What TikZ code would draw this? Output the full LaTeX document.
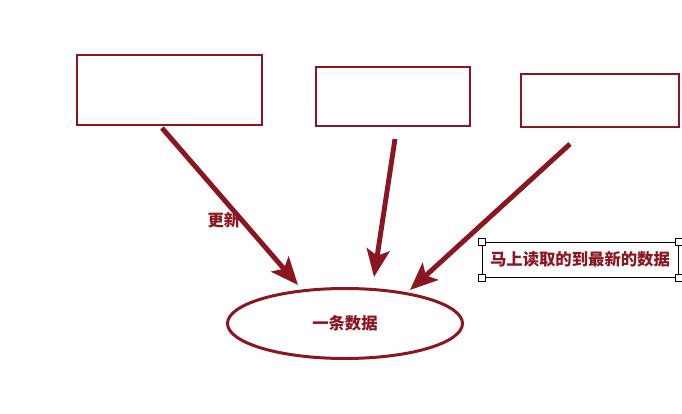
\documentclass[tikz,border=0pt]{standalone}
\usepackage{fontspec}
\newfontfamily\cjk{Noto Sans CJK SC}
\usetikzlibrary{arrows.meta}
\usetikzlibrary{shapes.geometric}
\definecolor{darkred}{RGB}{139,21,32}

\begin{document}
\begin{tikzpicture}[
  box/.style={draw=darkred, line width=1.7pt, minimum width=#1, inner sep=0pt},
  flow/.style={draw=darkred, line width=2.8pt, -{Stealth[length=5.5mm,width=4.6mm,inset=1.2mm]}},
  handle/.style={draw=black, fill=white, line width=0.4pt, minimum size=0.14cm, inner sep=0pt},
  txt/.style={text=darkred, font=\cjk\bfseries\fontsize{9.3}{11}\selectfont}
]
\useasboundingbox (0,0) rectangle (13.64,8.28);
%\draw[help lines, color=gray!30, dashed] (0,0) grid (13.64,8.28);

\node[box=3.7cm, minimum height=1.4cm] (b1) at (3.39,6.48) {};
\node[box=3.08cm, minimum height=1.18cm] (b2) at (7.86,6.35) {};
\node[box=3.16cm, minimum height=1.06cm] (b3) at (12.0,6.27) {};

\node[ellipse, draw=darkred, line width=1.7pt, minimum width=4.7cm, minimum height=1.4cm, inner sep=0pt, txt] (rec) at (6.9,1.81) {一条数据};

\coordinate (s1) at (3.24,5.72);
\coordinate (t1) at (5.96,2.58);
\coordinate (s2) at (7.9,5.5);
\coordinate (t2) at (7.48,2.74);
\coordinate (s3) at (11.4,5.4);
\coordinate (t3) at (8.2,2.48);

\draw[flow] (s1) -- (t1);
\draw[flow] (s2) -- (t2);
\draw[flow] (s3) -- (t3);

\node[txt] (upd) at (4.48,3.88) {更新};

\node[draw=black, line width=0.5pt, minimum width=3.92cm, minimum height=0.7cm, inner sep=0pt, txt] (read) at (11.6,3.09) {马上读取的到最新的数据};
\node[handle] (h1) at (read.north west) {};
\node[handle] (h2) at (read.north east) {};
\node[handle] (h3) at (read.south west) {};
\node[handle] (h4) at (read.south east) {};

\end{tikzpicture}
\end{document}
